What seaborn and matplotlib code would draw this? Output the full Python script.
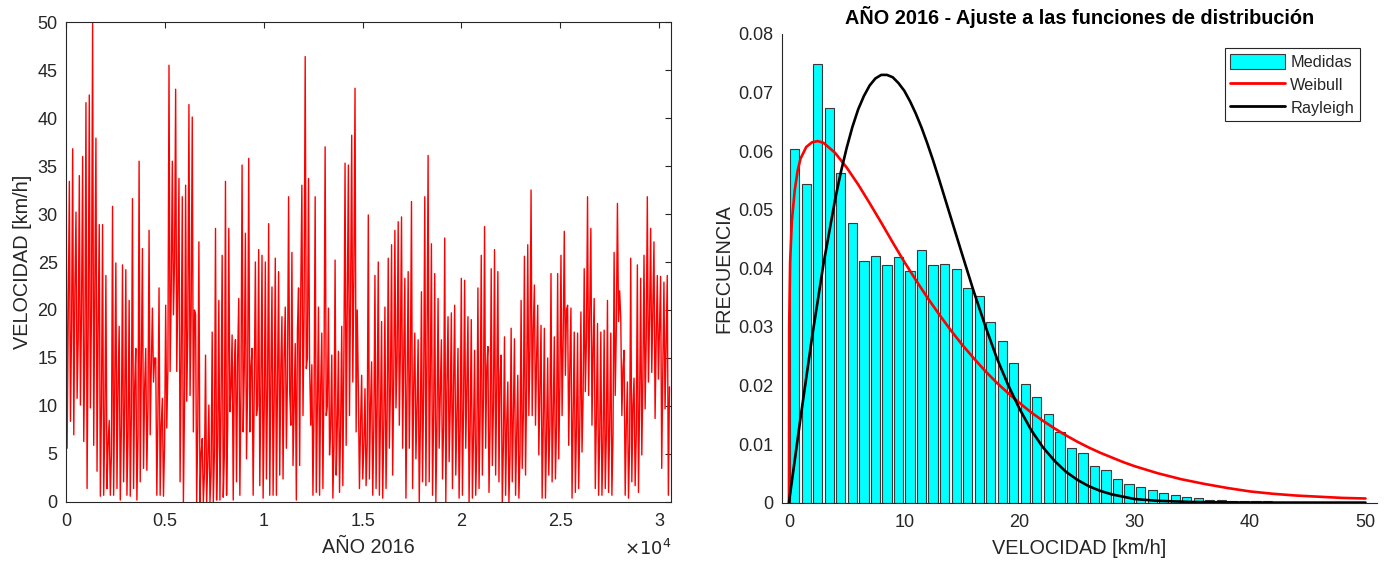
import numpy as np
import matplotlib
matplotlib.use("Agg")
import matplotlib.pyplot as plt
from matplotlib.patches import Patch
from matplotlib.lines import Line2D
import seaborn as sns

# ---------------------------------------------------------------------
# Serie temporal AÑO 2016, leida por tramos de ~168 muestras:
# pico, valle y nivel tipico de cada tramo
# ---------------------------------------------------------------------
PASO_MUESTRAS = 56
velocidad_max = [
    40.4, 33.4, 36.8, 30.2, 34.0, 36.0, 41.6, 42.4, 50.0, 37.9, 28.9, 28.9, 23.6, 8.5, 30.8,
    24.9, 18.3, 24.7, 24.2, 21.0, 31.6, 16.0, 35.5, 26.4, 16.0, 28.3, 20.2, 15.0, 22.3, 10.8,
    20.5, 45.5, 35.5, 43.0, 33.7, 31.8, 33.0, 41.4, 40.1, 19.5, 27.1, 6.6, 15.3, 10.1, 17.7,
    28.5, 21.0, 25.7,
    33.4, 28.5, 17.4, 16.9, 21.2, 35.1, 28.0, 35.8, 16.0, 25.0, 26.3, 25.7, 25.0, 29.0, 22.4,
    25.4, 24.0, 19.3, 20.3, 31.8, 26.0, 16.5, 22.3, 33.0, 46.4, 33.7, 14.3, 31.8, 20.3, 17.6,
    37.0, 20.2, 15.3, 25.2, 15.7, 18.3, 35.3, 35.1, 38.2, 43.1, 11.8, 13.2,
    11.8, 29.9, 14.6, 23.6, 25.0, 18.8, 20.3, 25.4, 26.8, 28.3, 29.2, 29.7, 23.3, 24.0, 31.3,
    17.6, 16.9, 21.9, 31.8, 36.1, 26.9, 23.8, 21.2, 16.9, 27.5, 19.3, 19.7, 20.5, 16.0, 23.3,
    23.1, 19.3, 19.0, 15.8, 22.3, 25.7, 28.7, 16.2, 24.3, 26.3, 24.0, 15.3, 17.2, 12.5, 18.1,
    17.0, 13.2, 21.0, 25.6, 26.8, 32.5, 22.6, 20.5, 18.4, 18.1, 15.0, 23.8, 17.2, 23.8, 25.7,
    28.2, 20.5, 20.2, 17.7, 17.6, 19.8, 24.3, 31.8, 28.5, 21.2, 18.6, 17.7, 17.9, 21.0, 17.6,
    26.0, 31.1, 19.1, 15.8, 12.5, 25.4, 12.9, 24.7, 23.3, 25.7, 31.8, 28.5, 27.1, 23.6, 23.5,
    22.9, 23.6,
]
velocidad_min = [
    5.6, 8.4, 7.0, 10.8, 10.1, 6.3, 1.4, 9.8, 5.9, 3.2, 0.6, 0.7, 1.4, 0.7, 0.7,
    1.4, 0.2, 2.1, 0.7, 0.6, 1.4, 0.2, 2.1, 3.5, 3.3, 7.0, 12.5, 0.7, 0.7, 0.6,
    7.7, 13.6, 19.5, 13.6, 2.1, 0.0, 10.5, 11.1, 7.3, 0.0, 0.0, 0.0, 0.0, 0.0, 0.0,
    0.2, 0.2, 0.5,
    0.7, 9.4, 0.2, 2.1, 0.7, 7.3, 4.5, 7.3, 0.7, 9.0, 1.7, 0.4, 2.4, 0.7, 0.7,
    0.7, 2.8, 2.4, 5.6, 11.5, 3.8, 0.2, 3.8, 9.0, 13.9, 14.2, 0.7, 1.0, 0.7, 1.4,
    9.0, 4.9, 0.4, 2.8, 1.0, 1.7, 5.9, 9.0, 12.5, 7.3, 1.4, 2.4,
    1.7, 2.4, 0.7, 1.4, 0.7, 0.4, 1.4, 5.6, 2.8, 9.8, 8.0, 5.6, 0.4, 5.6, 1.4,
    4.5, 0.0, 2.1, 1.7, 2.1, 0.7, 0.0, 5.6, 2.4, 0.0, 4.2, 1.4, 2.8, 0.4, 0.7,
    5.6, 0.0, 0.4, 0.7, 1.4, 2.8, 5.6, 1.0, 3.8, 2.8, 2.1, 0.0, 0.7, 0.0, 2.1,
    0.7, 0.4, 3.5, 2.8, 9.0, 9.0, 8.0, 4.9, 0.4, 0.4, 2.8, 2.1, 2.4, 4.5, 9.0,
    13.2, 5.9, 0.4, 1.0, 1.4, 5.2, 11.5, 11.1, 8.0, 1.4, 0.7, 0.7, 1.4, 1.0, 0.7,
    11.1, 18.8, 9.0, 0.7, 0.4, 2.1, 1.7, 1.0, 4.9, 9.7, 12.5, 13.5, 8.7, 12.8, 3.5,
    9.7, 0.7,
]
velocidad_tipica = [
    20, 18, 22, 17, 20, 16, 18, 20, 22, 18, 10, 8, 6, 5, 12,
    12, 8, 10, 7, 9, 12, 7, 14, 12, 10, 14, 15, 9, 8, 6,
    14, 22, 25, 22, 15, 10, 18, 20, 20, 8, 5, 3, 4, 3, 5,
    6, 10, 5, 8, 12, 14, 15, 12, 14, 12, 14, 12, 10, 12, 10,
    12, 13, 11, 12, 14, 15, 13, 8, 10, 18, 22, 20, 15, 8, 10,
    10, 12, 14, 10, 8, 6, 8, 8, 16, 20, 22, 24, 20, 8, 6,
    6, 10, 8, 10, 9, 8, 9, 12, 13, 15, 16, 15, 12, 14, 12,
    10, 8, 12, 15, 13, 9, 8, 11, 8, 12, 10, 12, 9, 8, 10,
    12, 8, 7, 6, 9, 11, 14, 8, 10, 12, 13, 6, 8, 5, 9,
    7, 5, 9, 12, 16, 18, 15, 12, 8, 7, 8, 9, 8, 12, 17,
    20, 14, 9, 8, 8, 11, 17, 20, 16, 9, 7, 6, 7, 8, 7,
    18, 22, 14, 8, 6, 10, 7, 10, 13, 17, 19, 20, 17, 18, 14,
    17, 12,
]

# ---------------------------------------------------------------------
# Histograma y ajustes (clases de 1 km/h)
# ---------------------------------------------------------------------
frecuencia = [
    0.0603, 0.0544, 0.0748, 0.0673, 0.0563, 0.0477, 0.0413, 0.0421, 0.0406, 0.0420,
    0.0396, 0.0431, 0.0405, 0.0408, 0.0399, 0.0367, 0.0353, 0.0308, 0.0275, 0.0238,
    0.0202, 0.0180, 0.0152, 0.0121, 0.0093, 0.0085, 0.0063, 0.0055, 0.0040, 0.0032,
    0.0027, 0.0022, 0.0017, 0.0013, 0.0010, 0.0007, 0.0005, 0.0005, 0.0003, 0.0003,
    0.0002, 0.0002, 0.0001, 0.0001, 0.0001,
]
clases = np.arange(len(frecuencia)) + 0.5

weibull_v = [0, 0.02, 0.1, 0.25, 0.5, 0.75, 1.0, 1.5, 2.0, 2.5, 3.0, 4, 5, 6, 7, 8, 9, 10, 11,
             12, 13, 14, 15, 16, 17, 18, 19, 20, 21, 22, 23, 24, 25, 26, 27, 28, 29, 30, 32,
             34, 36, 38, 40, 42, 44, 46, 48, 50]
weibull_f = [0, 0.030, 0.041, 0.048, 0.0533, 0.0566, 0.0587, 0.0607, 0.0615, 0.0617, 0.0614,
             0.0597, 0.0572, 0.0543, 0.0511, 0.0478, 0.0444, 0.0411, 0.0380, 0.0350, 0.0322,
             0.0295, 0.0270, 0.0247, 0.0225, 0.0205, 0.0187, 0.0170, 0.0154, 0.0140, 0.0127,
             0.0115, 0.0104, 0.0094, 0.0085, 0.0077, 0.0069, 0.0062, 0.0050, 0.0040, 0.0032,
             0.0025, 0.0019, 0.0015, 0.0012, 0.0010, 0.0008, 0.0007]

rayleigh_v = [0, 1, 2, 3, 4, 4.5, 5, 5.5, 6, 6.5, 7, 7.5, 8, 8.5, 9, 9.5, 10, 10.5, 11, 11.5,
              12, 12.5, 13, 14, 15, 16, 17, 18, 19, 20, 21, 22, 23, 24, 25, 26, 27, 28, 30,
              32, 35, 40, 50]
rayleigh_f = [0, 0.0144, 0.0282, 0.0408, 0.0517, 0.0564, 0.0605, 0.0641, 0.0671, 0.0694,
              0.0712, 0.0724, 0.0730, 0.0730, 0.0726, 0.0716, 0.0703, 0.0685, 0.0664, 0.0640,
              0.0613, 0.0584, 0.0553, 0.0489, 0.0425, 0.0362, 0.0303, 0.0248, 0.0201, 0.0160,
              0.0124, 0.0095, 0.0072, 0.0053, 0.0039, 0.0028, 0.0020, 0.0014, 0.0006, 0.0003,
              0.0001, 0.0, 0.0]

# =====================================================================
sns.set_theme(style="white")
plt.rcParams["font.family"] = ["Liberation Sans", "DejaVu Sans"]
GRIS = "#262626"
plt.rcParams.update({
    "axes.edgecolor": GRIS, "axes.linewidth": 0.8,
    "xtick.color": GRIS, "ytick.color": GRIS,
    "axes.labelcolor": GRIS, "text.color": GRIS,
})

fig = plt.figure(figsize=(13.96, 5.62), dpi=100)
ax1 = fig.add_axes([0.0473, 0.1068, 0.4334, 0.854])
ax2 = fig.add_axes([0.5602, 0.1057, 0.4262, 0.834])

# --- panel izquierdo: serie temporal ---
serie = np.column_stack([velocidad_max, velocidad_min, velocidad_tipica]).ravel()
muestras = np.arange(len(serie)) * PASO_MUESTRAS
sns.lineplot(x=muestras, y=serie, ax=ax1, color="red", linewidth=1.0, estimator=None)
ax1.set_xlim(0, 30600)
ax1.set_ylim(0, 50)
ax1.set_xticks(np.arange(0, 30001, 5000))
ax1.set_xticklabels([f"{v / 1e4:g}" for v in np.arange(0, 30001, 5000)])
ax1.set_yticks(np.arange(0, 51, 5))
ax1.tick_params(direction="in", top=True, right=True, labelsize=13, length=4, width=0.8)
ax1.tick_params(axis="x", pad=8)
ax1.tick_params(axis="y", pad=6)
ax1.set_xlabel("AÑO 2016", fontsize=14.3, labelpad=6)
ax1.set_ylabel("VELOCIDAD [km/h]", fontsize=14.3)
ax1.text(1.0, -0.097, r"$\times10^{4}$", transform=ax1.transAxes, ha="right", va="center",
         fontsize=13)

# --- panel derecho: histograma + ajustes ---
sns.histplot(x=clases, weights=frecuencia, binwidth=1, binrange=(0, len(frecuencia)),
             shrink=0.8, ax=ax2, color="#00FFFF", edgecolor="#3a3a3a", linewidth=0.8,
             alpha=1)
sns.lineplot(x=weibull_v, y=weibull_f, ax=ax2, color="red", linewidth=1.9, estimator=None)
sns.lineplot(x=rayleigh_v, y=rayleigh_f, ax=ax2, color="black", linewidth=1.9, estimator=None)
ax2.set_xlim(-0.6, 51)
ax2.set_ylim(0, 0.08)
ax2.set_xticks(np.arange(0, 51, 10))
ax2.set_yticks(np.arange(0, 0.081, 0.01))
ax2.set_yticklabels(["0"] + [f"{v:.2f}" for v in np.arange(0.01, 0.081, 0.01)])
ax2.spines["top"].set_visible(False)
ax2.spines["right"].set_visible(False)
ax2.tick_params(direction="in", labelsize=13, length=4, width=0.8)
ax2.tick_params(axis="x", pad=8)
ax2.tick_params(axis="y", pad=6)
ax2.set_xlabel("VELOCIDAD [km/h]", fontsize=14.3, labelpad=6)
ax2.set_ylabel("FRECUENCIA", fontsize=14.3)
ax2.set_title("AÑO 2016 - Ajuste a las funciones de distribución", fontsize=14.3,
              fontweight="bold", color="black", pad=7)

handles = [Patch(facecolor="#00FFFF", edgecolor="#3a3a3a", linewidth=0.8),
           Line2D([], [], color="red", linewidth=2),
           Line2D([], [], color="black", linewidth=2)]
leg = ax2.legend(handles, ["Medidas", "Weibull", "Rayleigh"], loc="upper right",
                 bbox_to_anchor=(0.971, 0.97), borderaxespad=0, fontsize=11.7,
                 handlelength=3.4, handleheight=1.1, handletextpad=0.3, labelspacing=0.4,
                 borderpad=0.35, fancybox=False, framealpha=1, edgecolor=GRIS)
leg.get_frame().set_linewidth(0.8)

fig.savefig("out.png", dpi=100)
